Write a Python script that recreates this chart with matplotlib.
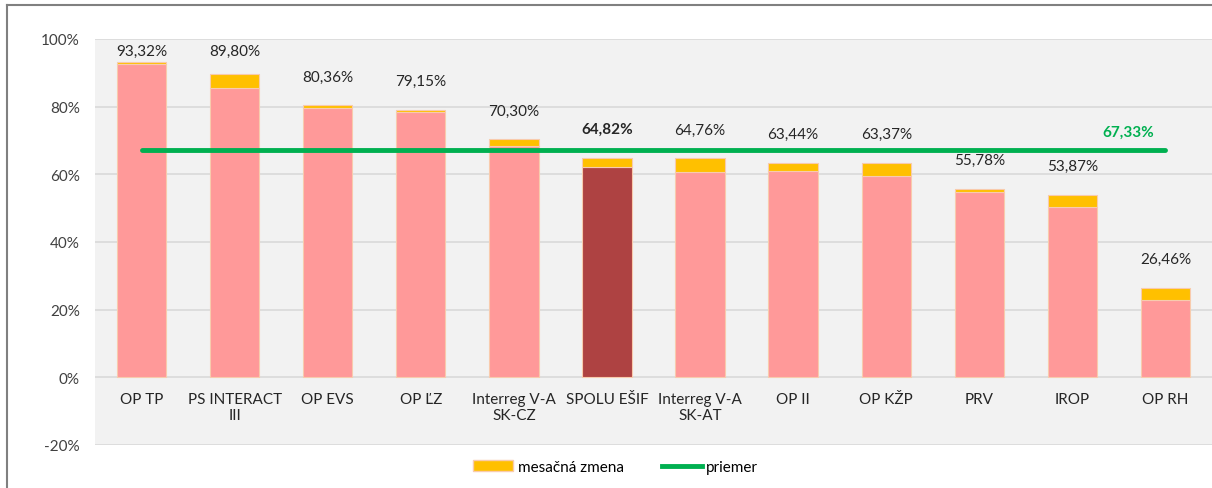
import matplotlib.pyplot as plt
import numpy as np
from matplotlib.patches import Patch
from matplotlib.lines import Line2D

plt.rcParams['font.family'] = ['Lato', 'DejaVu Sans']

# data
categories = ['OP TP', 'PS INTERACT\nIII', 'OP EVS', 'OP ĽZ', 'Interreg V-A\nSK-CZ', 'SPOLU EŠIF',
              'Interreg V-A\nSK-AT', 'OP II', 'OP KŽP', 'PRV', 'IROP', 'OP RH']
totals = [93.32, 89.80, 80.36, 79.15, 70.30, 64.82, 64.76, 63.44, 63.37, 55.78, 53.87, 26.46]
base = [92.5, 85.4, 79.6, 78.5, 68.5, 62.3, 60.7, 61.0, 59.5, 54.9, 50.3, 22.8]
change = [t - b for t, b in zip(totals, base)]
average = 67.33
spolu_idx = 5

fig = plt.figure(figsize=(12.12, 4.89), dpi=100)
ax = fig.add_axes([95 / 1212, 1 - 446 / 489, 1 - 95 / 1212, (446 - 40) / 489])
ax.set_facecolor('#F2F2F2')

x = np.arange(len(categories))
colors = ['#FF9999'] * len(categories)
colors[spolu_idx] = '#AE4242'
ax.bar(x, base, width=0.53, color=colors, edgecolor='#F8CBAD', linewidth=0.8, zorder=2)
ax.bar(x, change, bottom=base, width=0.53, color='#FFC000', edgecolor='#F8CBAD', linewidth=0.8, zorder=2)
ax.plot([x[0], x[-1]], [average, average], color='#00B050', linewidth=3.5, zorder=3,
        solid_capstyle='round')

# labels
for i, t in enumerate(totals):
    ax.text(i, min(t + 8.5, 96.5), f'{t:.2f}%'.replace('.', ','), ha='center', va='center',
            fontsize=11, color='#262626', fontweight='bold' if i == spolu_idx else 'normal')
ax.text(x[-1] - 0.4, average + 5.2, f'{average:.2f}%'.replace('.', ','), ha='center', va='center',
        fontsize=11, color='#00B050', fontweight='bold')

ax.set_xlim(-0.5, len(categories) - 0.5)
ax.set_ylim(-20, 100)
ax.set_yticks(range(-20, 101, 20))
ax.set_yticklabels([f'{v}%' for v in range(-20, 101, 20)], fontsize=11, color='#404040')
ax.yaxis.grid(True, color='#D9D9D9', linewidth=1.2, zorder=0)
ax.set_axisbelow(True)
ax.tick_params(axis='y', length=0, pad=11)
ax.set_xticks([])
for s in ax.spines.values():
    s.set_visible(False)

for i, c in enumerate(categories):
    ax.text(i, -4.3, c, ha='center', va='top', fontsize=11, color='#262626', linespacing=1.15)

# legend
handles = [Patch(facecolor='#FFC000', edgecolor='#F8CBAD', label='mesačná zmena'),
           Line2D([0], [0], color='#00B050', linewidth=3.5, label='priemer')]
fig.legend(handles=handles, loc='center', bbox_to_anchor=(0.508, 0.043), ncol=2, frameon=False,
           fontsize=11, handlelength=2.6, handletextpad=0.3, columnspacing=2.5)

# outer border
fig.add_artist(Line2D([7 / 1212, 7 / 1212], [0, 1 - 6 / 489], color='#808080', linewidth=1.5,
                      transform=fig.transFigure))
fig.add_artist(Line2D([7 / 1212, 1], [1 - 6 / 489, 1 - 6 / 489], color='#808080', linewidth=1.5,
                      transform=fig.transFigure))

fig.savefig('out.png', dpi=100)
